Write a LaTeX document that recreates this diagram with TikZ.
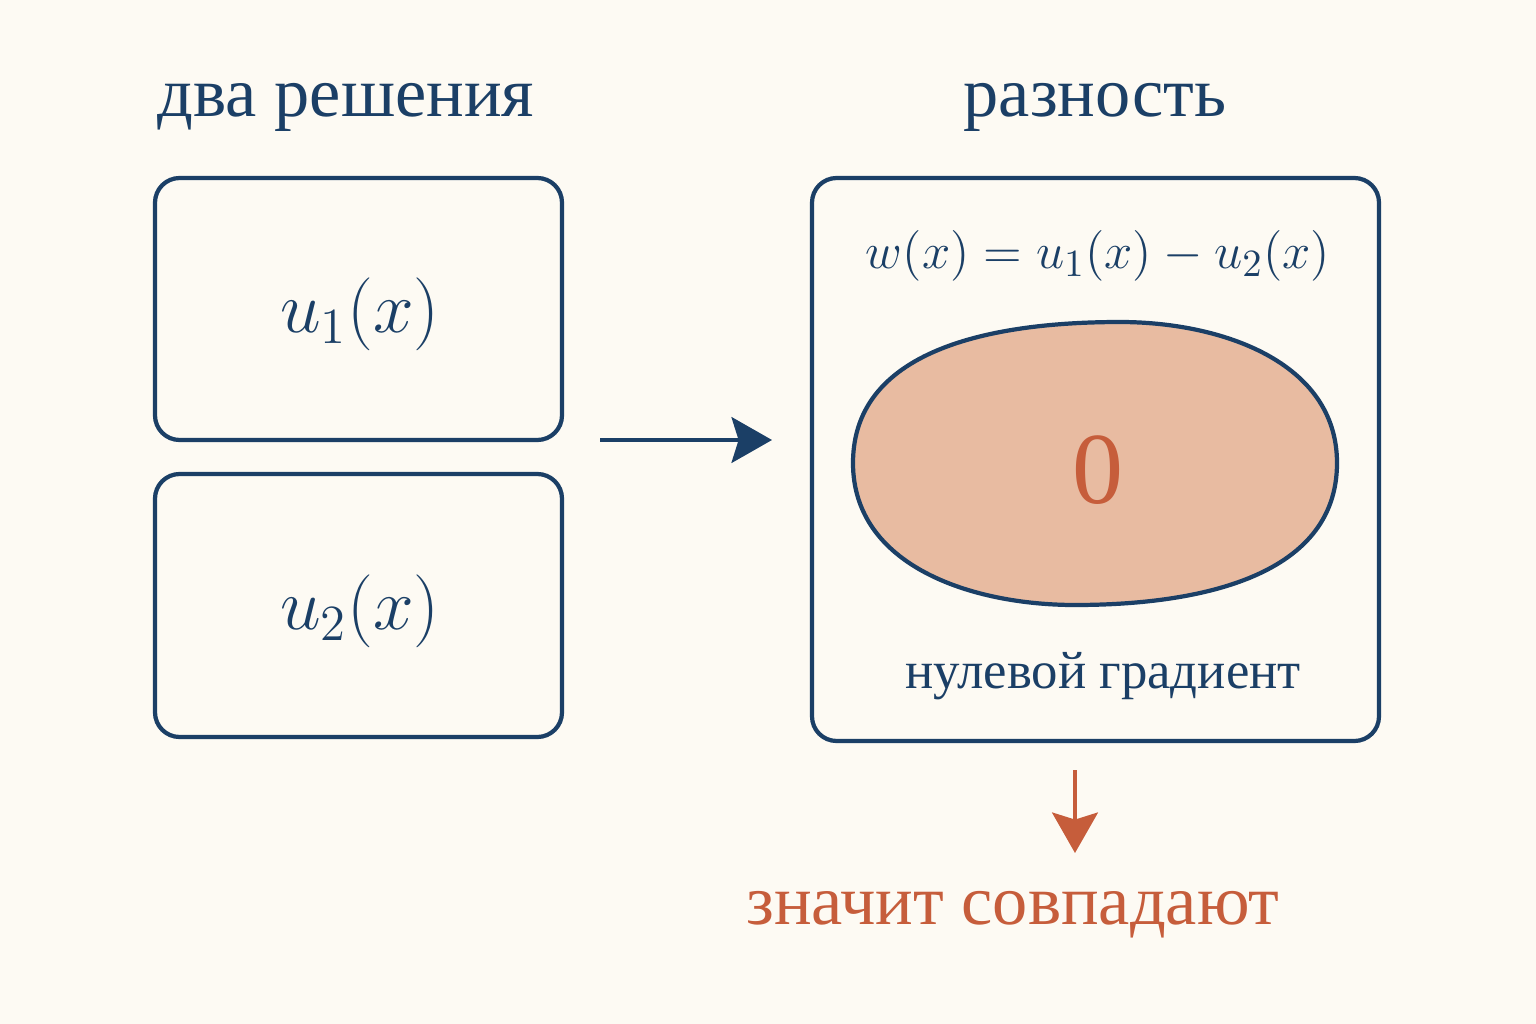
\documentclass[tikz,border=0pt]{standalone}
\usepackage{fontspec}
\setmainfont{Liberation Serif}
\usetikzlibrary{arrows.meta}
\definecolor{navy}{HTML}{1B3F66}
\definecolor{rust}{HTML}{C65D3B}
\definecolor{peach}{HTML}{E8BBA1}
\definecolor{paper}{HTML}{FDFAF3}

\begin{document}
\begin{tikzpicture}[x=0.01cm,y=-0.01cm,
    box/.style={draw=navy,line width=1.2pt,rounded corners=7pt},
    title/.style={text=navy,font=\fontsize{20}{24}\selectfont},
    arr/.style={line width=1.2pt,-{Stealth[length=11.5pt,width=13pt,inset=2pt]}}]
\useasboundingbox[fill=paper] (0,0) rectangle (1536,1024);

\node[title] (t1) at (346,107) {два решения};
\node[title] (t2) at (1095,107) {разность};

\draw[box] (155,178) rectangle (562,440);
\draw[box] (155,474) rectangle (562,737);
\node[text=navy,font=\fontsize{21}{24}\selectfont] (u1) at (360,314) {$u_1(x)$};
\node[text=navy,font=\fontsize{21}{24}\selectfont] (u2) at (360,611) {$u_2(x)$};

\coordinate (a) at (600,440);
\coordinate (b) at (772,440);
\draw[arr,navy] (a) -- (b);

\draw[box] (812,178) rectangle (1379,741);
\node[text=navy,font=\fontsize{15}{18}\selectfont] (w) at (1098,256) {$w(x)=u_1(x)-u_2(x)$};
% blob
\draw[navy,line width=1.2pt,fill=peach] (853,463) to[out=90,in=180] (1120,322)
    to[out=0,in=90] (1337,463) to[out=-90,in=0] (1075,605)
    to[out=180,in=-90] cycle;
\node[text=rust,font=\fontsize{29}{32}\selectfont] (z) at (1098,470) {0};
\node[text=navy,font=\fontsize{15}{18}\selectfont] (g) at (1103,676) {нулевой градиент};

\coordinate (c) at (1075,770);
\coordinate (d) at (1075,853);
\draw[arr,rust] (c) -- (d);
\node[text=rust,font=\fontsize{20}{24}\selectfont] (s) at (1013,915) {значит совпадают};
\end{tikzpicture}
\end{document}
